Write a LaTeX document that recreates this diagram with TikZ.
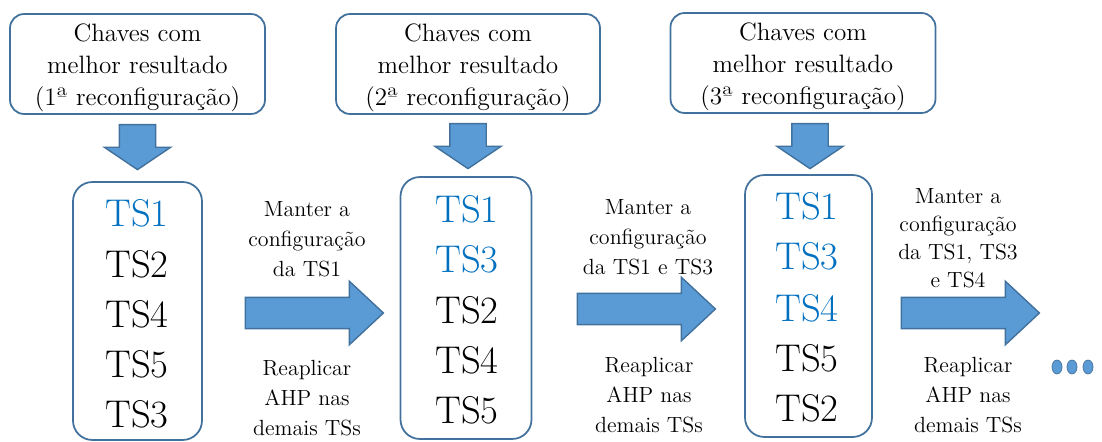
\documentclass[tikz,border=0pt]{standalone}
\usetikzlibrary{shapes.arrows}
\definecolor{boxline}{HTML}{41719C}
\definecolor{arrfill}{HTML}{5B9BD5}
\definecolor{tsblue}{HTML}{0070C0}

\begin{document}
\begin{tikzpicture}[x=0.02cm,y=-0.02cm,keybox/.style={draw=boxline,line width=1pt,rounded corners=8pt,minimum height=2cm,inner sep=0pt},keytxt/.style={align=center,inner sep=0pt,font=\fontsize{14.3}{18.3}\selectfont},tsbox/.style={draw=boxline,line width=1pt,rounded corners=11pt,inner sep=0pt},ts/.style={anchor=base,inner sep=0pt,font=\fontsize{22}{26}\selectfont},tsK/.style={ts,text=tsblue},downarr/.style={single arrow,draw=boxline,fill=arrfill,line width=0.8pt,inner xsep=0pt,inner ysep=0.35cm,minimum height=0.9cm,single arrow head extend=0.3cm,single arrow tip angle=112,rotate=-90},fwdarr/.style={single arrow,draw=boxline,fill=arrfill,line width=0.8pt,inner xsep=0pt,inner ysep=0.3cm,minimum height=2.76cm,single arrow head extend=0.32cm,single arrow tip angle=86},note/.style={align=center,inner sep=0pt,font=\fontsize{12.5}{17}\selectfont}]
\useasboundingbox (0,0) rectangle (1102,442);

% chaves com melhor resultado
\node[keybox,minimum width=5.1cm] (K1) at (137.5,64) {};
\node[keytxt] (T1) at (137.5,68) {Chaves com\\melhor resultado\\(1ª reconfiguração)};
\node[keybox,minimum width=5.28cm] (K2) at (468,64) {};
\node[keytxt] (T2) at (468,68) {Chaves com\\melhor resultado\\(2ª reconfiguração)};
\node[keybox,minimum width=5.3cm] (K3) at (803,63) {};
\node[keytxt] (T3) at (803,67) {Chaves com\\melhor resultado\\(3ª reconfiguração)};

\node[downarr] (D1) at (137.5,141) {};
\node[downarr] (D2) at (468,140) {};
\node[downarr] (D3) at (810,140) {};

% listas de TS
\node[tsbox,minimum width=2.58cm,minimum height=5.16cm] (L1) at (137.5,311) {};
\node[tsK] (A1) at (137,227) {TS1};
\node[ts] (A2) at (137,277) {TS2};
\node[ts] (A3) at (137,327) {TS4};
\node[ts] (A4) at (137,377) {TS5};
\node[ts] (A5) at (137,427) {TS3};

\node[tsbox,minimum width=2.62cm,minimum height=5.24cm] (L2) at (466,308) {};
\node[tsK] (B1) at (467,223) {TS1};
\node[tsK] (B2) at (467,273) {TS3};
\node[ts] (B3) at (467,323) {TS2};
\node[ts] (B4) at (467,373) {TS4};
\node[ts] (B5) at (467,423) {TS5};

\node[tsbox,minimum width=2.54cm,minimum height=5.24cm] (L3) at (808.5,306) {};
\node[tsK] (C1) at (807,220) {TS1};
\node[tsK] (C2) at (807,270) {TS3};
\node[tsK] (C3) at (807,321) {TS4};
\node[ts] (C4) at (807,371) {TS5};
\node[ts] (C5) at (807,421) {TS2};

% passos
\node[fwdarr] (F1) at (306,313) {};
\node[note] (M1) at (307,239) {Manter a\\configuração\\da TS1};
\node[note] (R1) at (307,398) {Reaplicar\\AHP nas\\demais TSs};

\node[fwdarr] (F2) at (638,309) {};
\node[note] (M2) at (648,237) {Manter a\\configuração\\da TS1 e TS3};
\node[note] (R2) at (649,395) {Reaplicar\\AHP nas\\demais TSs};

\node[fwdarr] (F3) at (962,313) {};
\node[note,font=\fontsize{12.5}{16}\selectfont] (M3) at (958,238) {Manter a\\configuração\\da TS1, TS3\\e TS4};
\node[note] (R3) at (968,395) {Reaplicar\\AHP nas\\demais TSs};

\fill[arrfill,draw=boxline] (1057,367) ellipse (5 and 7);
\fill[arrfill,draw=boxline] (1072,367) ellipse (5 and 7);
\fill[arrfill,draw=boxline] (1088,367) ellipse (5 and 7);
\end{tikzpicture}
\end{document}
